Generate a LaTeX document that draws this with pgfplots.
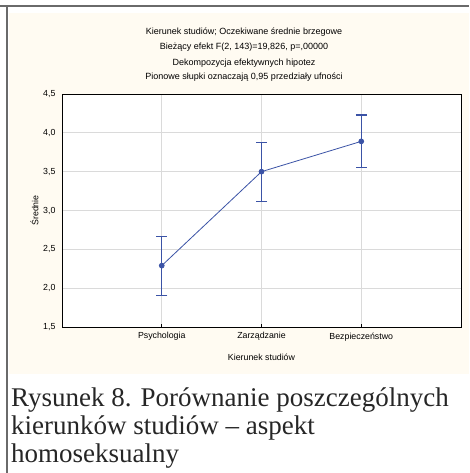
\documentclass[border=0pt]{standalone}
\usepackage{fontspec}
\setmainfont{Liberation Serif}
\newfontfamily\arial{Liberation Sans}
\usepackage{pgfplots}
\pgfplotsset{compat=1.18}
\definecolor{cream}{HTML}{FFFBF2}
\definecolor{frame}{HTML}{6A6A6A}
\definecolor{ser}{HTML}{3B53A6}
\definecolor{grd}{HTML}{DADADA}
\begin{document}
\begin{tikzpicture}[x=1pt,y=1pt]
\path[use as bounding box] (0,0) rectangle (469,473);
\fill[cream] (9,99) rectangle (469,460);
\fill[frame] (0,466) rectangle (469,468);
\fill[frame] (6,0) rectangle (8,468);
\begin{axis}[
  at={(62pt,146pt)}, anchor=south west,
  width=399pt, height=233pt, scale only axis,
  axis background/.style={fill=white},
  xmin=0, xmax=4, ymin=1.5, ymax=4.5,
  xtick={1,2,3}, xticklabels={Psychologia,Zarządzanie,Bezpieczeństwo},
  ytick={1.5,2.0,2.5,3.0,3.5,4.0,4.5},
  yticklabels={{1,5},{2,0},{2,5},{3,0},{3,5},{4,0},{4,5}},
  grid=major, major grid style={grd, line width=0.9pt},
  axis line style={black, line width=0.8pt},
  xtick pos=bottom, ytick pos=left,
  x tick style={black, line width=0.6pt}, major tick length=3pt,
  y tick style={draw=none},
  tick label style={font=\arial\fontsize{8.8}{10}\selectfont, black},
  xticklabel style={yshift=-2pt},
  yticklabel style={xshift=-3pt},
  xlabel={Kierunek studiów}, ylabel={Średnie},
  label style={font=\arial\fontsize{8.8}{10}\selectfont, black},
  xlabel style={yshift=-6pt},
  ylabel style={yshift=-2pt},
]
\addplot[color=ser, line width=0.8pt, mark=*, mark size=2.4pt, mark options={color=ser},
  error bars/.cd, y dir=both, y explicit,
  error bar style={line width=1.1pt, color=ser},
  error mark=|,
  error mark options={color=ser, mark size=5.5pt, line width=1.2pt}]
  table[x=x, y=y, y error plus=ep, y error minus=em] {
x y ep em
1 2.29 0.38 0.38
2 3.50 0.38 0.38
3 3.89 0.34 0.34
};
\end{axis}
\node[font=\arial\fontsize{9}{10}\selectfont] at (244,441) {Kierunek studiów; Oczekiwane średnie brzegowe};
\node[font=\arial\fontsize{9}{10}\selectfont] at (244,426) {Bieżący efekt F(2, 143)=19,826, p=,00000};
\node[font=\arial\fontsize{9}{10}\selectfont] at (244,410) {Dekompozycja efektywnych hipotez};
\node[font=\arial\fontsize{9}{10}\selectfont] at (244,396) {Pionowe słupki oznaczają 0,95 przedziały ufności};
\node[anchor=base west, inner sep=0pt, font=\fontsize{27}{30}\selectfont, text=black!85] at (11,66) {Rysunek 8. Porównanie poszczególnych};
\node[anchor=base west, inner sep=0pt, font=\fontsize{27}{30}\selectfont, text=black!85] at (11,38) {kierunków studiów – aspekt};
\node[anchor=base west, inner sep=0pt, font=\fontsize{27}{30}\selectfont, text=black!85] at (11,10) {homoseksualny};
\end{tikzpicture}
\end{document}
